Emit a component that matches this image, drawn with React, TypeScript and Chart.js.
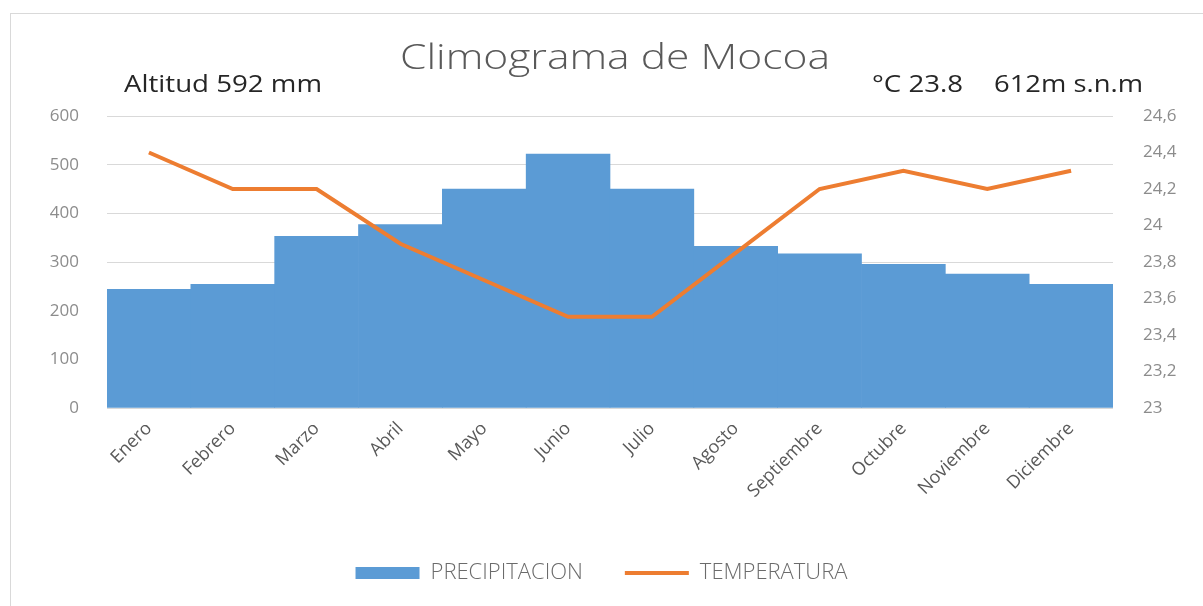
import React, { useEffect, useRef } from "react";
import { Chart, registerables } from "chart.js";

Chart.register(...registerables);

const months = [
  "Enero", "Febrero", "Marzo", "Abril", "Mayo", "Junio",
  "Julio", "Agosto", "Septiembre", "Octubre", "Noviembre", "Diciembre",
];
const precipitacion = [244, 254, 353, 377, 450, 522, 450, 332, 317, 295, 275, 254];
const temperatura = [24.4, 24.2, 24.2, 23.9, 23.7, 23.5, 23.5, 23.85, 24.2, 24.3, 24.2, 24.3];
const precipMin = 0;
const precipMax = 600;
const precipStep = 100;
const tempMin = 23;
const tempMax = 24.6;
const tempStep = 0.2;
const titleText = "Climograma de Mocoa";
const leftNote = "Altitud 592 mm";
const rightNoteA = "°C 23.8";
const rightNoteB = "612m s.n.m";
const seriesNames = ["PRECIPITACION", "TEMPERATURA"];

const FONT = "'Open Sans', 'DejaVu Sans', sans-serif";
const BLUE = "#5B9BD5";
const ORANGE = "#ED7D31";

function fitText(ctx: CanvasRenderingContext2D, text: string, x: number, y: number, w: number) {
  const m = ctx.measureText(text).width;
  ctx.save();
  ctx.translate(x, y);
  ctx.scale(w / m, 1);
  ctx.textAlign = "left";
  ctx.fillText(text, 0, 0);
  ctx.restore();
}

const decor = {
  id: "decor",
  beforeDraw(chart: any) {
    const ctx = chart.ctx as CanvasRenderingContext2D;
    ctx.save();
    ctx.fillStyle = "#ffffff";
    ctx.fillRect(0, 0, chart.width, chart.height);
    ctx.strokeStyle = "#d9d9d9";
    ctx.lineWidth = 1;
    ctx.strokeRect(10.5, 13.5, 1200, 600);
    ctx.restore();
  },
  afterDraw(chart: any) {
    const ctx = chart.ctx as CanvasRenderingContext2D;
    ctx.save();
    ctx.textBaseline = "alphabetic";
    ctx.fillStyle = "#595959";
    ctx.font = `300 35px ${FONT}`;
    fitText(ctx, titleText, 400, 69, 430);
    ctx.fillStyle = "#262626";
    ctx.font = `400 23px ${FONT}`;
    fitText(ctx, leftNote, 124, 92, 198);
    fitText(ctx, rightNoteA, 872, 92, 91);
    fitText(ctx, rightNoteB, 994, 92, 149);
    ctx.restore();
  },
};

export default function App() {
  const ref = useRef<HTMLCanvasElement | null>(null);

  useEffect(() => {
    if (!ref.current) return;
    const chart = new Chart(ref.current, {
      type: "bar",
      data: {
        labels: months,
        datasets: [
          {
            type: "bar",
            label: seriesNames[0],
            data: precipitacion,
            backgroundColor: BLUE,
            borderWidth: 0,
            categoryPercentage: 1.0,
            barPercentage: 1.0,
            yAxisID: "y",
            order: 2,
          } as any,
          {
            type: "line",
            label: seriesNames[1],
            data: temperatura,
            borderColor: ORANGE,
            backgroundColor: ORANGE,
            borderWidth: 4,
            pointRadius: 0,
            pointStyle: "line",
            tension: 0,
            yAxisID: "y1",
            order: 1,
          } as any,
        ],
      },
      options: {
        animation: false,
        responsive: false,
        maintainAspectRatio: false,
        layout: { padding: { left: 0, right: 0, top: 116, bottom: 12 } },
        plugins: {
          legend: {
            position: "bottom",
            labels: {
              usePointStyle: true,
              pointStyleWidth: 64,
              boxHeight: 12,
              padding: 42,
              color: "#6b6b6b",
              font: { family: FONT, size: 22, weight: "300" },
              generateLabels: (chart: any) => {
                const items = Chart.defaults.plugins.legend.labels.generateLabels(chart);
                return items
                  .slice()
                  .sort((a: any, b: any) => a.datasetIndex - b.datasetIndex)
                  .map((it: any) => {
                    const isBar = it.datasetIndex === 0;
                    return {
                      ...it,
                      text: seriesNames[it.datasetIndex],
                      pointStyle: isBar ? "rect" : "line",
                      lineWidth: isBar ? 0 : 4,
                      strokeStyle: isBar ? BLUE : ORANGE,
                      fillStyle: isBar ? BLUE : ORANGE,
                    };
                  });
              },
            },
          },
          tooltip: { enabled: false },
          title: { display: false },
        },
        scales: {
          x: {
            grid: { display: false, drawTicks: false },
            border: { display: false },
            ticks: {
              minRotation: 45,
              maxRotation: 45,
              padding: 10,
              color: "#595959",
              font: { family: FONT, size: 18 },
            },
            afterFit: (s: any) => {
              s.height = 112;
            },
          },
          y: {
            position: "left",
            min: precipMin,
            max: precipMax,
            ticks: {
              stepSize: precipStep,
              padding: 28,
              color: "#8c8c8c",
              font: { family: FONT, size: 17 },
            },
            grid: { color: "#d9d9d9", drawTicks: false },
            border: { display: false },
            afterFit: (s: any) => {
              s.width = 107;
            },
          },
          y1: {
            position: "right",
            min: tempMin,
            max: tempMax,
            ticks: {
              stepSize: tempStep,
              padding: 30,
              color: "#8c8c8c",
              font: { family: FONT, size: 17 },
              callback: (v: any) => {
                const n = Math.round(Number(v) * 10) / 10;
                return Number.isInteger(n) ? String(n) : n.toFixed(1).replace(".", ",");
              },
            },
            grid: { display: false, drawTicks: false },
            border: { display: false },
            afterFit: (s: any) => {
              s.width = 90;
            },
          },
        },
      },
      plugins: [decor],
    });
    return () => chart.destroy();
  }, []);

  return (
    <div style={{ position: "absolute", left: 0, top: 0, width: 1203, height: 606, background: "#fff" }}>
      <canvas ref={ref} width={1203} height={606} style={{ display: "block", width: 1203, height: 606 }} />
    </div>
  );
}
